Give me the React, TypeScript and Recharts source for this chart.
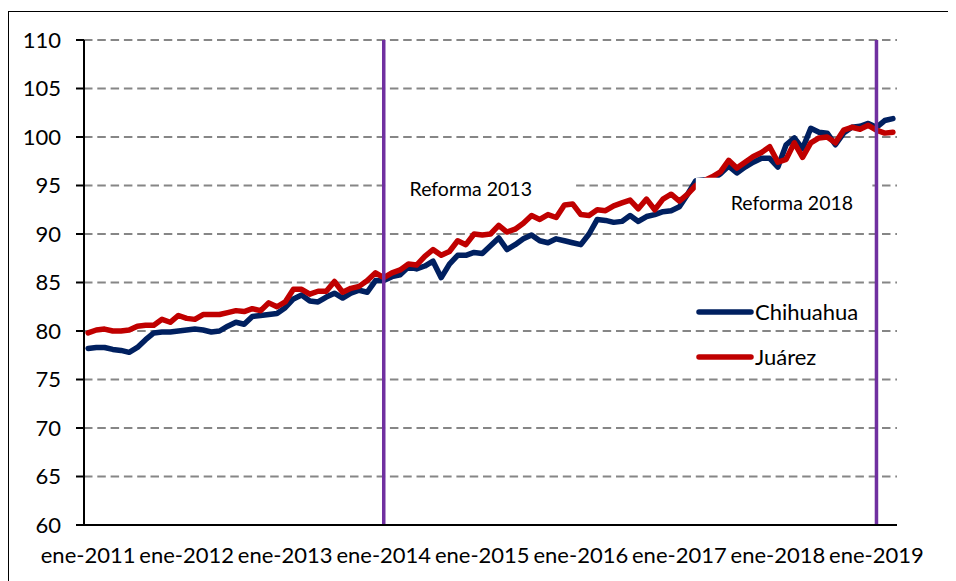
import {
  LineChart,
  Line,
  XAxis,
  YAxis,
  CartesianGrid,
  ReferenceLine,
  ReferenceArea,
  Legend,
} from "recharts";

// monthly index, ene-2011 .. mar-2019
const chihuahua = [
  78.2, 78.3, 78.3, 78.1, 78.0, 77.8, 78.3, 79.1, 79.8, 79.9, 79.9, 80.0,
  80.1, 80.2, 80.1, 79.9, 80.0, 80.5, 80.9, 80.7, 81.5, 81.6, 81.7, 81.8,
  82.4, 83.3, 83.7, 83.1, 83.0, 83.5, 83.9, 83.4, 83.9, 84.2, 84.0, 85.2,
  85.2, 85.6, 85.8, 86.6, 86.4, 86.7, 87.2, 85.5, 86.9, 87.8, 87.8, 88.1,
  88.0, 88.8, 89.6, 88.4, 88.9, 89.5, 89.9, 89.3, 89.1, 89.5, 89.3, 89.1,
  88.9, 90.0, 91.5, 91.4, 91.2, 91.3, 91.9, 91.3, 91.8, 92.0, 92.3, 92.4,
  92.8, 94.1, 95.5, 95.6, 95.6, 96.2, 97.0, 96.3, 96.9, 97.4, 97.8, 97.8,
  96.9, 99.2, 99.9, 98.8, 100.9, 100.5, 100.4, 99.2, 100.4, 101.0, 101.1, 101.4,
  101.0, 101.7, 101.9,
];

const juarez = [
  79.8, 80.1, 80.2, 80.0, 80.0, 80.1, 80.5, 80.6, 80.6, 81.2, 80.9, 81.6,
  81.3, 81.2, 81.7, 81.7, 81.7, 81.9, 82.1, 82.0, 82.3, 82.1, 82.9, 82.5,
  83.0, 84.3, 84.3, 83.8, 84.1, 84.1, 85.1, 84.0, 84.4, 84.6, 85.2, 86.0,
  85.5, 86.0, 86.3, 86.9, 86.8, 87.7, 88.4, 87.8, 88.2, 89.3, 88.9, 90.0,
  89.9, 90.0, 90.9, 90.2, 90.5, 91.1, 91.9, 91.5, 92.0, 91.7, 93.0, 93.1,
  92.0, 91.9, 92.5, 92.4, 92.9, 93.2, 93.5, 92.6, 93.6, 92.5, 93.6, 94.1,
  93.4, 94.1, 95.0, 95.5, 95.9, 96.4, 97.6, 96.8, 97.4, 98.0, 98.4, 99.0,
  97.4, 97.7, 99.4, 97.9, 99.4, 99.9, 100.0, 99.4, 100.7, 101.0, 100.8, 101.2,
  100.7, 100.4, 100.5,
];

const yearLabels = [
  "ene-2011",
  "ene-2012",
  "ene-2013",
  "ene-2014",
  "ene-2015",
  "ene-2016",
  "ene-2017",
  "ene-2018",
  "ene-2019",
];

const yTicks = [60, 65, 70, 75, 80, 85, 90, 95, 100, 105, 110];

const NAVY = "#002060";
const RED = "#C00000";
const PURPLE = "#7030A0";
const GRID = "#868686";

// each month sits in the middle of its slot, year ticks on the slot edges
const data = chihuahua.map((v, i) => ({
  pos: i + 0.5,
  chihuahua: v,
  juarez: juarez[i],
}));
const tickEdges = yearLabels.map((_, k) => k * 12);
const labelCenters = yearLabels.map((_, k) => k * 12 + 0.5);

// eslint-disable-next-line @typescript-eslint/no-explicit-any
function LegendBox({ payload }: any) {
  return (
    <div>
      {(payload || []).map((p: any) => (
        <div
          key={p.value}
          style={{ display: "flex", alignItems: "center", height: 45 }}
        >
          <svg width={58} height={10}>
            <line
              x1={3}
              y1={5}
              x2={55}
              y2={5}
              stroke={p.color}
              strokeWidth={5.5}
              strokeLinecap="round"
            />
          </svg>
          <span style={{ fontSize: 22, color: "#000", marginLeft: 1 }}>
            {p.value}
          </span>
        </div>
      ))}
    </div>
  );
}

export default function App() {
  return (
    <div
      style={{
        fontFamily: "Lato, 'Open Sans', sans-serif",
        marginTop: 3,
        marginLeft: -1,
        width: 947,
        height: 569,
        borderTop: "1px solid #000",
        borderLeft: "2px solid #000",
        overflow: "hidden",
      }}
    >
      <LineChart
        width={947}
        height={569}
        data={data}
        margin={{ top: 28, right: 59, bottom: 15, left: 0 }}
      >
        <CartesianGrid
          vertical={false}
          stroke={GRID}
          strokeWidth={2}
          strokeDasharray="8.5 4.8"
          xAxisId="edges"
        />
        <XAxis
          xAxisId="edges"
          dataKey="pos"
          type="number"
          domain={[0, 99]}
          ticks={tickEdges}
          tick={false}
          height={1}
          stroke="#000"
          axisLine={{ stroke: "#000", strokeWidth: 2 }}
          tickLine={{ stroke: "#000", strokeWidth: 2 }}
          tickSize={7}
        />
        <XAxis
          xAxisId="labels"
          dataKey="pos"
          type="number"
          domain={[0, 99]}
          ticks={labelCenters}
          tickFormatter={(v: number) => yearLabels[Math.round((v - 0.5) / 12)]}
          interval={0}
          height={40}
          axisLine={false}
          tickLine={false}
          tickSize={0}
          tickMargin={21}
          tick={{ fill: "#000", fontSize: 22 }}
        />
        <YAxis
          type="number"
          domain={[60, 110]}
          ticks={yTicks}
          interval={0}
          width={75}
          stroke="#000"
          axisLine={{ stroke: "#000", strokeWidth: 2 }}
          tickLine={{ stroke: "#000", strokeWidth: 2 }}
          tickSize={8}
          tickMargin={15}
          tick={{ fill: "#000", fontSize: 22 }}
        />
        <Line
          xAxisId="edges"
          dataKey="chihuahua"
          name="Chihuahua"
          stroke={NAVY}
          strokeWidth={5.5}
          strokeLinejoin="round"
          strokeLinecap="round"
          dot={false}
          activeDot={false}
          isAnimationActive={false}
        />
        <Line
          xAxisId="edges"
          dataKey="juarez"
          name="Juárez"
          stroke={RED}
          strokeWidth={5.5}
          strokeLinejoin="round"
          strokeLinecap="round"
          dot={false}
          activeDot={false}
          isAnimationActive={false}
        />
        <ReferenceArea
          xAxisId="edges"
          x1={36.8}
          x2={59.6}
          y1={93.8}
          y2={96.5}
          fill="#fff"
          fillOpacity={1}
          stroke="none"
          zIndex={450}
        />
        <ReferenceArea
          xAxisId="edges"
          x1={74.5}
          x2={96.0}
          y1={90.6}
          y2={95.8}
          fill="#fff"
          fillOpacity={1}
          stroke="none"
          zIndex={450}
        />
        <ReferenceArea
          xAxisId="edges"
          x1={46.6}
          x2={47.6}
          y1={94.5}
          y2={94.7}
          fillOpacity={0}
          stroke="none"
          zIndex={460}
          label={{ value: "Reforma 2013", position: "center", fill: "#000", fontSize: 19.5 }}
        />
        <ReferenceArea
          xAxisId="edges"
          x1={85.7}
          x2={86.7}
          y1={93.1}
          y2={93.3}
          fillOpacity={0}
          stroke="none"
          zIndex={460}
          label={{ value: "Reforma 2018", position: "center", fill: "#000", fontSize: 19.5 }}
        />
        <ReferenceLine
          xAxisId="edges"
          x={36.5}
          stroke={PURPLE}
          strokeWidth={3.5}
          zIndex={470}
        />
        <ReferenceLine
          xAxisId="edges"
          x={96.5}
          stroke={PURPLE}
          strokeWidth={3.5}
          zIndex={470}
        />
        <Legend
          layout="vertical"
          align="center"
          verticalAlign="middle"
          content={<LegendBox />}
          wrapperStyle={{ left: 687, top: 277, width: 220 }}
        />
      </LineChart>
    </div>
  );
}
